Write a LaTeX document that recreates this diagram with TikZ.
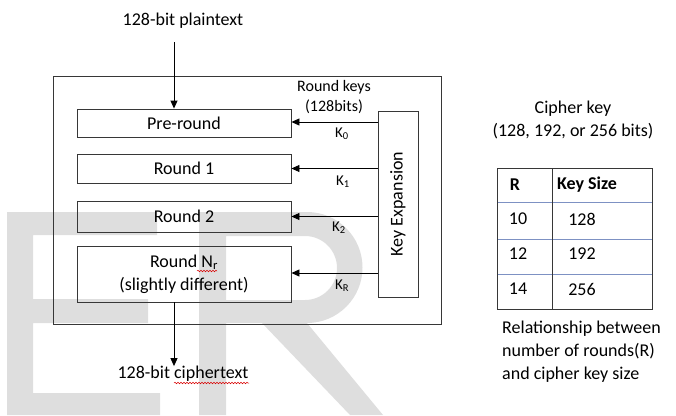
\documentclass[tikz,border=0pt]{standalone}
\usepackage{fontspec}
\setmainfont{Carlito}
\usetikzlibrary{arrows.meta, positioning, decorations.pathmorphing}

\definecolor{markgray}{RGB}{222,222,222}
\definecolor{linegray}{RGB}{55,55,55}
\definecolor{rowblue}{RGB}{125,145,195}

\begin{document}
\begin{tikzpicture}[x=1pt, y=-1pt,
    roundbox/.style={draw=linegray, line width=0.9pt, minimum width=214pt, inner sep=0pt,
      font=\fontsize{18}{23}\selectfont, align=center},
    txt/.style={font=\fontsize{18}{23}\selectfont, inner sep=0pt},
    smalltxt/.style={font=\fontsize{16}{20}\selectfont, inner sep=0pt, align=center},
    klabel/.style={font=\fontsize{15}{17}\selectfont, inner sep=0pt},
    arr/.style={-{Triangle[length=8pt,width=7pt]}, line width=0.9pt},
    squiggle/.style={red!85!black, line width=0.5pt, decorate,
      decoration={snake, amplitude=0.8pt, segment length=3pt}}]
  \useasboundingbox (0,0) rectangle (676,415);

  % watermark letters
  \fill[markgray] (7,212) -- (157,212) -- (157,235) -- (33,235) -- (33,299) -- (148,299)
    -- (148,323) -- (33,323) -- (33,393) -- (160,393) -- (160,415) -- (7,415) -- cycle;
  \fill[markgray, even odd rule] (199,212) -- (307,212)
    arc[start angle=-90, end angle=90, radius=55.5] -- (383,415) -- (350,415)
    -- (262,323) -- (226,323) -- (226,415) -- (199,415) -- cycle
    (226,236) -- (305,236) arc[start angle=-90, end angle=90, radius=32] -- (226,300) -- cycle;

  % cipher
  \draw[linegray, line width=0.9pt] (53,76) rectangle (441,324);
  \node[roundbox, minimum height=28pt] (pre) at (184,123) {Pre-round};
  \node[roundbox, minimum height=29pt] (round1) at (184,168.5) {Round 1};
  \node[roundbox, minimum height=31pt] (round2) at (184,216.5) {Round 2};
  \node[roundbox, minimum height=56pt] (roundn) at (184,274) {Round N\textsubscript{r}\\(slightly different)};
  \node[roundbox, minimum width=40pt, minimum height=186pt] (keyexp) at (398,204) {};
  \node[txt, rotate=90] (keylabel) at (keyexp.center) {Key Expansion};

  \draw[arr] (keyexp.west |- 0,122) -- (pre.east |- 0,122);
  \foreach \r in {round1, round2} {
    \draw[arr] (keyexp.west |- \r.east) -- (\r.east);
  }
  \draw[arr] (keyexp.west |- 0,273) -- (roundn.east |- 0,273);

  \node[smalltxt] (keys) at (334,97) {Round keys\\(128bits)};
  \node[klabel] (k0) at (342,134) {K\textsubscript{0}};
  \node[klabel] (k1) at (343,182) {K\textsubscript{1}};
  \node[klabel] (k2) at (339,228) {K\textsubscript{2}};
  \node[klabel] (kr) at (342,286) {K\textsubscript{R}};

  \node[txt] (plain) at (183,21) {128-bit plaintext};
  \coordinate (plainin) at (174,42);
  \draw[arr] (plainin) -- (plainin |- pre.north);
  \node[txt] (cipher) at (183,374) {128-bit ciphertext};
  \draw[arr] (roundn.south -| plainin) -- (cipher.north -| plainin);
  \draw[squiggle] (174,383) -- (249,383);
  \draw[squiggle] (197,271) -- (217,271);

  % key size table
  \node[txt, align=center] (cipherkey) at (573,120) {Cipher key\\(128, 192, or 256 bits)};
  \draw[rowblue, line width=0.8pt] (497,202) -- (652,202) (497,239) -- (652,239) (497,274) -- (652,274);
  \draw[linegray, line width=0.9pt] (497,168) rectangle (652,309) (552,168) -- (552,309);
  \node[txt, font=\fontsize{18}{23}\selectfont\bfseries] (hdrr) at (515,185) {R};
  \node[txt, font=\fontsize{18}{23}\selectfont\bfseries] (hdrsize) at (587,185) {Key Size};
  \foreach \n/\s/\y in {10/128/219, 12/192/254, 14/256/289} {
    \node[txt] (rounds\n) at (518,\y) {\n};
    \node[txt] (size\s) at (582,\y) {\s};
  }
  \node[txt, align=left, anchor=west] (caption) at (502,352)
    {Relationship between\\number of rounds(R)\\and cipher key size};
\end{tikzpicture}
\end{document}
